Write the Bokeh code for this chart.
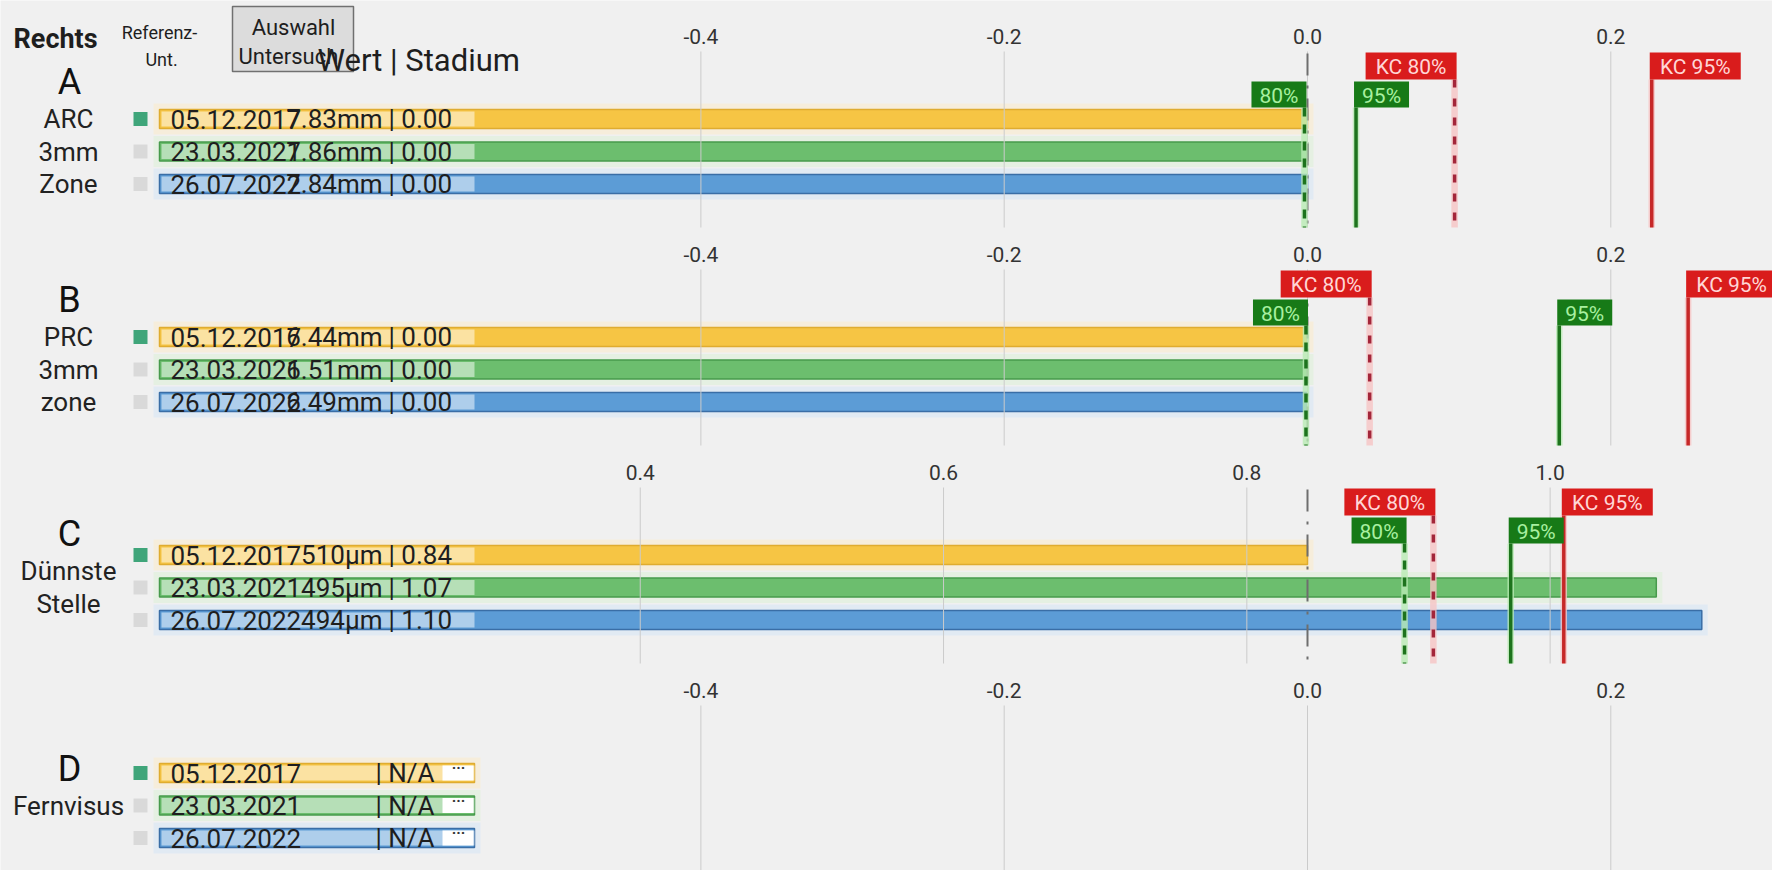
from bokeh.plotting import figure
from bokeh.models import Range1d
from bokeh.core.properties import value
from bokeh.embed import file_html
from bokeh.resources import INLINE

# ---------------- data ----------------
exam_dates = ["05.12.2017", "23.03.2021", "26.07.2022"]
panel_letters = ["A", "B", "C", "D"]
panel_captions = [["ARC", "3mm", "Zone"], ["PRC", "3mm", "zone"], ["Dünnste", "Stelle"], ["Fernvisus"]]
caption_rows = [[0, 1, 2], [0, 1, 2], [0.5, 1.5], [1]]

measured_a = ["7.83mm", "7.86mm", "7.84mm"]
measured_b = ["6.44mm", "6.51mm", "6.49mm"]
measured_c = ["510µm", "495µm", "494µm"]
measured_d = ["", "", ""]

stage_a = [0.00, 0.00, 0.00]
stage_b = [0.00, 0.00, 0.00]
stage_c = [0.84, 1.07, 1.10]
stage_d = [None, None, None]

reference_stage = [0.00, 0.00, 0.84, None]
limit_80 = [-0.002, -0.001, 0.904, None]
limit_95 = [0.032, 0.166, 0.974, None]
kc_limit_80 = [0.097, 0.041, 0.923, None]
kc_limit_95 = [0.227, 0.251, 1.009, None]

ticks_ab = [-0.4, -0.2, 0.0, 0.2]
ticks_c = [0.4, 0.6, 0.8, 1.0]

measured = [measured_a, measured_b, measured_c, measured_d]
stages = [stage_a, stage_b, stage_c, stage_d]
panel_ticks = [ticks_ab, ticks_ab, ticks_c, ticks_ab]

# ---------------- styling / layout ----------------
FONT = "Roboto"
BG = "#f0f0f0"
W, H = 1772, 870
PANEL_TOP = [0, 218, 436, 654]
PX_PER_UNIT = 1516.5      # pixels per stage unit
ANCHOR_PX = 1307          # column where the reference stage of a panel sits
ROW0 = 118.5              # first row centre below the panel top
ROW_PX = 32.5
BAR_H = 19
BAR_LEFT_PX = 159
LABEL_RIGHT_PX = 474

bar_fill = ["#f6c544", "#6cbe6e", "#5c9cd6"]
bar_line = ["#dfac30", "#479a4c", "#3a6ea6"]
bar_glow = ["#f7ecd6", "#e2f0df", "#dde9f4"]
marker_fill = ["#3fa57a", "#d9d9d9", "#d9d9d9"]
TEXT = "#1e1e1e"

GREEN_DARK = "#1d731d"
GREEN_HALO = "#b9ebb4"
GREEN_FLAG = "#177a17"
GREEN_TEXT = "#a8f0a0"
RED_DOT = "#a3263a"
RED_SOLID = "#c62828"
RED_HALO = "#f6c4c4"
RED_FLAG = "#d91c1c"
RED_TEXT = "#ffd6d6"

anchors = [a if a is not None else 0.0 for a in reference_stage]
x_starts = [a - ANCHOR_PX / PX_PER_UNIT for a in anchors]
x_ends = [a + (W - ANCHOR_PX) / PX_PER_UNIT for a in anchors]

p = figure(width=W, height=H,
           x_range=Range1d(x_starts[0], x_ends[0]), y_range=Range1d(H, 0),
           x_axis_location=None, y_axis_location=None,
           toolbar_location=None, output_backend="svg",
           min_border=0, background_fill_color=BG, border_fill_color=BG,
           outline_line_color=None)
p.xgrid.visible = False
p.ygrid.visible = False
# panel C is plotted against its own, shifted stage scale
p.extra_x_ranges = {"c": Range1d(x_starts[2], x_ends[2])}
range_names = ["default", "default", "c", "default"]


def px(k, xp):
    """screen column -> stage value on the scale of panel k"""
    return x_starts[k] + xp / PX_PER_UNIT


txt = dict(text_font=value(FONT), text_baseline="middle")
GLOW = 6 / PX_PER_UNIT


def draw_panel(k):
    top = PANEL_TOP[k]
    rn = range_names[k]
    rows = [top + ROW0 + ROW_PX * i for i in range(3)]
    vals = stages[k]
    has_bars = all(v is not None for v in vals)
    grid_top, grid_bot = top + 51, min(top + 227, H)
    base = px(k, BAR_LEFT_PX)
    ends = vals if has_bars else [px(k, LABEL_RIGHT_PX)] * 3

    # soft halo behind each bar, then the bar itself
    p.hbar(y=rows, left=base - GLOW, right=[e + GLOW for e in ends], height=BAR_H + 12,
           fill_color=bar_glow, fill_alpha=0.8, line_color=None, x_range_name=rn)
    p.hbar(y=rows, left=base, right=ends, height=BAR_H,
           fill_color=bar_fill, line_color=bar_line, line_width=1.5, x_range_name=rn)

    # stage axis: tick labels and grid lines
    ticks = panel_ticks[k]
    p.segment(x0=ticks, y0=grid_top, x1=ticks, y1=grid_bot, line_color="#cbcbcb",
              line_width=1, x_range_name=rn)
    p.text(x=ticks, y=top + 36, text=[f"{t:.1f}" for t in ticks], text_align="center",
           text_font_size="21px", text_color="#333333", x_range_name=rn, **txt)

    # lighter label strip on each bar
    p.hbar(y=rows, left=px(k, BAR_LEFT_PX + 2), right=px(k, LABEL_RIGHT_PX), height=BAR_H - 4,
           fill_color="white", fill_alpha=0.5, line_color=None, x_range_name=rn)
    if not has_bars:
        p.hbar(y=rows, left=px(k, 442), right=px(k, LABEL_RIGHT_PX - 1), height=BAR_H - 4,
               fill_color="white", line_color=None, x_range_name=rn)
        p.text(x=px(k, 458), y=[r - 5 for r in rows], text=["···"] * 3, text_align="center",
               text_font_size="15px", text_font_style="bold", text_color="#333333",
               x_range_name=rn, **txt)

    # reference marker squares
    p.scatter(x=px(k, 140), y=rows, marker="square", size=14, fill_color=marker_fill,
              line_color=None, x_range_name=rn)

    # date / value / stage texts
    p.text(x=px(k, 170), y=rows, text=exam_dates, text_align="left",
           text_font_size="26px", text_color=TEXT, x_range_name=rn, **txt)
    p.text(x=px(k, 382), y=rows, text=measured[k], text_align="right",
           text_font_size="26px", text_color=TEXT, x_range_name=rn, **txt)
    stage_txt = ["| " + (f"{v:.2f}" if v is not None else "N/A") for v in vals]
    stage_px = 388 if any(measured[k]) else 375
    p.text(x=px(k, stage_px), y=rows, text=stage_txt, text_align="left",
           text_font_size="26px", text_color=TEXT, x_range_name=rn, **txt)

    # captions
    cap_y = [top + ROW0 + ROW_PX * r for r in caption_rows[k]]
    p.text(x=px(k, 68), y=cap_y, text=panel_captions[k], text_align="center",
           text_font_size="26px", text_color="#222222", x_range_name=rn, **txt)
    p.text(x=px(k, 69), y=[cap_y[0] - 37], text=[panel_letters[k]], text_align="center",
           text_font_size="36px", text_color="#111111", x_range_name=rn, **txt)

    if reference_stage[k] is None:
        return

    # limit lines
    def vline(xv, y_from, color, halo, dash, width=3.5):
        if halo:
            p.segment(x0=xv, y0=y_from, x1=xv, y1=grid_bot, line_color=halo,
                      line_width=width + 3, line_alpha=0.8, x_range_name=rn)
        p.segment(x0=xv, y0=y_from, x1=xv, y1=grid_bot, line_color=color,
                  line_width=width, line_dash=dash, x_range_name=rn)

    def flag(xv, label, fill, tcol, side, y0, y1):
        wpx = 55 if len(label) <= 3 else 91
        if side == "left":
            right = xv + 2 / PX_PER_UNIT
            left = right - wpx / PX_PER_UNIT
        else:
            left = xv - 2 / PX_PER_UNIT
            right = left + wpx / PX_PER_UNIT
        p.quad(left=left, right=right, top=y0, bottom=y1, fill_color=fill,
               line_color=None, x_range_name=rn)
        p.text(x=(left + right) / 2, y=(y0 + y1) / 2 + 1, text=[label], text_align="center",
               text_font_size="21px", text_color=tcol, x_range_name=rn, **txt)

    kc_top, kc_bot = top + 52, top + 79
    gr_top, gr_bot = top + 81, top + 107
    vline(reference_stage[k], top + 53, "#6e6e6e", None, "22 10 3 10", width=2)
    vline(limit_80[k], gr_bot, GREEN_DARK, GREEN_HALO, "9 8")
    vline(limit_95[k], gr_bot, GREEN_DARK, GREEN_HALO, "solid")
    vline(kc_limit_80[k], kc_bot, RED_DOT, RED_HALO, "8 11")
    vline(kc_limit_95[k], kc_bot, RED_SOLID, RED_HALO, "solid")
    flag(kc_limit_80[k], "KC 80%", RED_FLAG, RED_TEXT, "left", kc_top, kc_bot)
    flag(kc_limit_95[k], "KC 95%", RED_FLAG, RED_TEXT, "right", kc_top, kc_bot)
    flag(limit_80[k], "80%", GREEN_FLAG, GREEN_TEXT, "left", gr_top, gr_bot)
    flag(limit_95[k], "95%", GREEN_FLAG, GREEN_TEXT, "right", gr_top, gr_bot)


for k in range(4):
    draw_panel(k)

# ---------------- header ----------------
p.text(x=px(0, 13), y=38, text=["Rechts"], text_align="left", text_font_style="bold",
       text_font_size="27px", text_color=TEXT, **txt)
p.text(x=px(0, 159), y=32, text=["Referenz-"], text_align="center",
       text_font_size="18px", text_color=TEXT, **txt)
p.text(x=px(0, 161), y=59, text=["Unt."], text_align="center",
       text_font_size="18px", text_color=TEXT, **txt)
p.quad(left=px(0, 232), right=px(0, 353), top=6, bottom=71, fill_color="#dcdcdc",
       line_color="#707070", line_width=1.5)
p.text(x=px(0, 293), y=27, text=["Auswahl"], text_align="center",
       text_font_size="22px", text_color=TEXT, **txt)
p.text(x=px(0, 238), y=56, text=["Untersuch"], text_align="left",
       text_font_size="22px", text_color=TEXT, **txt)
p.text(x=px(0, 317), y=60, text=["Wert | Stadium"], text_align="left",
       text_font_size="31px", text_color=TEXT, **txt)

open("out.html", "w").write(file_html(p, INLINE))
